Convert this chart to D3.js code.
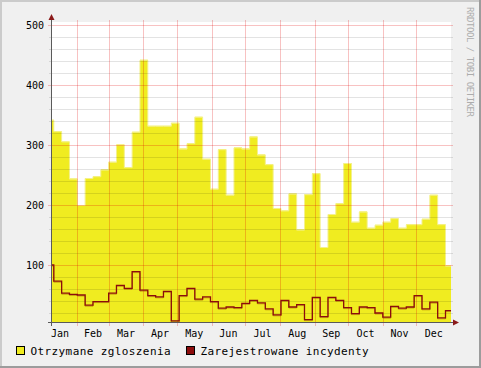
<!DOCTYPE html>
<html>
<head>
<meta charset="utf-8">
<script src="https://cdn.jsdelivr.net/npm/d3@7"></script>
<style>
  body { margin: 0; background: #f0f0f0; }
  svg { display: block; }
  text { font-family: "DejaVu Sans Mono", monospace; }
</style>
</head>
<body>
<div id="chart"></div>
<script>
// weekly totals (rrdtool weeks start on Thursday), first and last weeks are partial
const received = [342, 323, 306, 244, 200, 245, 248, 259, 272, 301, 263, 322, 442, 332, 332, 332,
  337, 294, 303, 347, 277, 227, 293, 217, 296, 294, 314, 284, 268, 195, 191, 219, 159, 218, 253,
  130, 185, 203, 270, 172, 189, 162, 167, 172, 178, 162, 168, 168, 177, 217, 168, 99];
const incidents = [100, 73, 53, 51, 50, 33, 39, 39, 53, 66, 61, 89, 58, 49, 47, 56, 7, 49, 61, 43,
  47, 39, 28, 30, 29, 36, 41, 37, 27, 17, 41, 30, 34, 9, 46, 14, 46, 41, 29, 19, 30, 29, 20, 13,
  31, 28, 30, 49, 27, 38, 12, 24];
const monthNames = ['Jan', 'Feb', 'Mar', 'Apr', 'May', 'Jun', 'Jul', 'Aug', 'Sep', 'Oct', 'Nov', 'Dec'];
const legendLabels = ['Otrzymane zgloszenia', 'Zarejestrowane incydenty'];
const yMajor = [100, 200, 300, 400, 500];

const width = 481, height = 368;
const pLeft = 51, pRight = 451, pTop = 22, pBottom = 322;

const start = new Date(Date.UTC(2007, 0, 8, 12));
const end = new Date(Date.UTC(2007, 11, 31, 22));

const x = d3.scaleUtc().domain([start, end]).range([pLeft, pRight]);
const y = d3.scaleLinear().domain([5, 505]).range([pBottom, pTop]);

// segment boundaries: start, every thursday, end
const bounds = [start, ...d3.utcThursday.range(start, end)];
const pts = v => bounds.map((d, i) => [d, v[i]]).concat([[end, v[v.length - 1]]]);

const svg = d3.select('#chart')
  .append('svg')
  .attr('width', width)
  .attr('height', height);

// frame
svg.append('rect').attr('width', width).attr('height', height).attr('fill', '#f0f0f0');
svg.append('rect').attr('x', 0).attr('y', 0).attr('width', width).attr('height', 2).attr('fill', '#cbcbcb');
svg.append('rect').attr('x', 0).attr('y', 0).attr('width', 2).attr('height', height).attr('fill', '#cbcbcb');
svg.append('rect').attr('x', width - 2).attr('y', 0).attr('width', 2).attr('height', height).attr('fill', '#9c9c9c');
svg.append('rect').attr('x', 0).attr('y', height - 2).attr('width', width).attr('height', 2).attr('fill', '#9c9c9c');

// plot background
svg.append('rect')
  .attr('x', pLeft).attr('y', pTop)
  .attr('width', pRight - pLeft).attr('height', pBottom - pTop)
  .attr('fill', '#ffffff');

// received area
const area = d3.area()
  .x(d => x(d[0]))
  .y0(pBottom)
  .y1(d => y(d[1]))
  .curve(d3.curveStepAfter);

svg.append('path')
  .datum(pts(received))
  .attr('d', area)
  .attr('fill', '#f0ec20');

// light edge on top of the area
svg.append('path')
  .datum(pts(received))
  .attr('d', d3.line().x(d => x(d[0])).y(d => y(d[1]) + 0.5).curve(d3.curveStepAfter))
  .attr('fill', 'none')
  .attr('stroke', '#f4f18c')
  .attr('stroke-width', 1);

// grid
const grid = svg.append('g').attr('shape-rendering', 'crispEdges');
const minor = d3.range(20, 500, 20).filter(v => v % 100);
grid.selectAll('.minor')
  .data(minor)
  .enter().append('line')
  .attr('x1', pLeft - 2).attr('x2', pRight + 2)
  .attr('y1', d => Math.round(y(d)) + 0.5).attr('y2', d => Math.round(y(d)) + 0.5)
  .attr('stroke', 'rgba(0,0,0,0.11)');

grid.selectAll('.major')
  .data(yMajor)
  .enter().append('line')
  .attr('x1', pLeft - 3).attr('x2', pRight + 2)
  .attr('y1', d => Math.round(y(d)) + 0.5).attr('y2', d => Math.round(y(d)) + 0.5)
  .attr('stroke', 'rgba(225,0,0,0.24)');

const months = d3.utcMonth.range(d3.utcMonth.ceil(start), end);
grid.selectAll('.vmajor')
  .data(months)
  .enter().append('line')
  .attr('x1', d => Math.round(x(d)) + 0.5).attr('x2', d => Math.round(x(d)) + 0.5)
  .attr('y1', pTop - 2).attr('y2', pBottom + 4)
  .attr('stroke', 'rgba(225,0,0,0.24)');

// incidents line
const line = d3.line()
  .x(d => x(d[0]))
  .y(d => y(d[1]))
  .curve(d3.curveStepAfter);

svg.append('path')
  .datum(pts(incidents))
  .attr('d', d3.line().x(d => x(d[0])).y(d => y(d[1]) + 1).curve(d3.curveStepAfter))
  .attr('fill', 'none')
  .attr('stroke', 'rgba(150,70,0,0.45)')
  .attr('stroke-width', 1);

svg.append('path')
  .datum(pts(incidents))
  .attr('d', line)
  .attr('fill', 'none')
  .attr('stroke', '#8c0c0c')
  .attr('stroke-width', 1.3);

// axes
svg.append('line')
  .attr('x1', pLeft + 0.5).attr('x2', pLeft + 0.5)
  .attr('y1', pTop - 3).attr('y2', pBottom + 4)
  .attr('stroke', '#5a5a5a').attr('shape-rendering', 'crispEdges');
svg.append('line')
  .attr('x1', pLeft - 3).attr('x2', pRight + 3)
  .attr('y1', pBottom + 0.5).attr('y2', pBottom + 0.5)
  .attr('stroke', '#5a5a5a').attr('shape-rendering', 'crispEdges');

svg.append('path')
  .attr('d', `M${pLeft + 0.5},${pTop - 8} L${pLeft - 2.5},${pTop - 2} L${pLeft + 3.5},${pTop - 2} Z`)
  .attr('fill', '#8b1a1a');
svg.append('path')
  .attr('d', `M${pRight + 8},${pBottom + 0.5} L${pRight + 2},${pBottom - 2.5} L${pRight + 2},${pBottom + 3.5} Z`)
  .attr('fill', '#8b1a1a');

// y labels
svg.selectAll('.ylab')
  .data(yMajor)
  .enter().append('text')
  .attr('x', 44)
  .attr('y', d => y(d) + 3.5)
  .attr('text-anchor', 'end')
  .attr('font-size', 10)
  .attr('fill', '#000')
  .text(d => d);

// month labels, centred in each month
svg.selectAll('.xlab')
  .data(d3.utcMonth.range(d3.utcMonth.floor(start), end))
  .enter().append('text')
  .attr('x', d => x(new Date((+d + +d3.utcMonth.offset(d, 1)) / 2)))
  .attr('y', 337)
  .attr('text-anchor', 'middle')
  .attr('font-size', 10)
  .attr('fill', '#000')
  .text(d => monthNames[d.getUTCMonth()]);

// legend
const legendColors = ['#f0ec20', '#8c0c0c'];
const legendX = [16.5, 186.5];
const lg = svg.selectAll('.legend')
  .data(legendLabels)
  .enter().append('g')
  .attr('transform', (d, i) => `translate(${legendX[i]},346.5)`);
lg.append('rect')
  .attr('width', 8).attr('height', 8)
  .attr('fill', (d, i) => legendColors[i])
  .attr('stroke', '#000');
lg.append('text')
  .attr('x', 14)
  .attr('y', 8)
  .attr('font-size', 11)
  .attr('letter-spacing', 0.4)
  .attr('fill', '#000')
  .text(d => d);

// watermark
svg.append('text')
  .attr('transform', 'translate(467,7) rotate(90)')
  .attr('font-size', 9)
  .attr('textLength', 110)
  .attr('lengthAdjust', 'spacing')
  .attr('fill', '#acacac')
  .text('RRDTOOL / TOBI OETIKER');
</script>
</body>
</html>
